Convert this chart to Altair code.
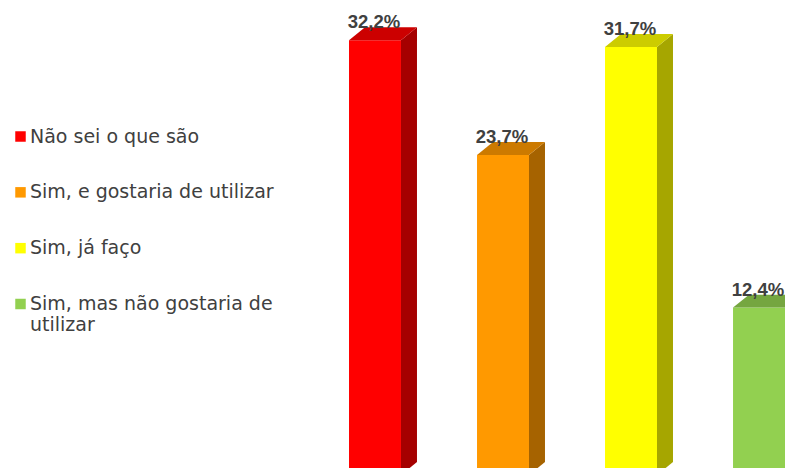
import altair as alt
import pandas as pd

# ---- data ----
categories = [
    "Não sei o que são",
    "Sim, e gostaria de utilizar",
    "Sim, já faço",
    "Sim, mas não gostaria de utilizar",
]
legend_labels = [
    "Não sei o que são",
    "Sim, e gostaria de utilizar",
    "Sim, já faço",
    "Sim, mas não gostaria de\nutilizar",
]
values = [32.2, 23.7, 31.7, 12.4]

front_colors = ["#FF0000", "#FF9900", "#FFFF00", "#92D050"]
top_colors = ["#CC0000", "#CC7A00", "#CCCC00", "#75A640"]
side_colors = ["#A50000", "#A66300", "#A6A600", "#5F8A34"]

# ---- geometry (style) ----
HALF = 0.203    # half front width (slot units)
DX = 0.125      # depth in x (slot units)
DY = 0.96       # depth in y (% units)
X_DOMAIN = [-2.867, 3.203]
Y_DOMAIN = [0.52, 34.59]

bars = pd.DataFrame({
    "name": categories,
    "i": list(range(len(categories))),
    "v": values,
    "front": front_colors,
})
bars["left"] = bars["i"] - HALF
bars["right"] = bars["i"] + HALF
bars["zero"] = 0.0
bars["label"] = [f"{v:.1f}".replace(".", ",") + "%" for v in values]

side_rows, top_rows = [], []
for k in range(len(categories)):
    nm, v = categories[k], values[k]
    lft, rgt = k - HALF, k + HALF
    side_rows.append({"name": nm, "x": rgt, "y": v, "y2": 0.0, "col": side_colors[k]})
    side_rows.append({"name": nm, "x": rgt + DX, "y": v + DY, "y2": DY, "col": side_colors[k]})
    top_rows.append({"name": nm, "y": v, "x": lft, "x2": rgt, "col": top_colors[k]})
    top_rows.append({"name": nm, "y": v + DY, "x": lft + DX, "x2": rgt + DX, "col": top_colors[k]})
side = pd.DataFrame(side_rows)
top = pd.DataFrame(top_rows)

legend_df = pd.DataFrame({"name": categories, "text": legend_labels, "col": front_colors})

xs = alt.Scale(domain=X_DOMAIN, nice=False, zero=False)
ys = alt.Scale(domain=Y_DOMAIN, nice=False, zero=False)

front_layer = alt.Chart(bars).mark_rect(clip=True).encode(
    x=alt.X("left:Q", scale=xs, axis=None),
    x2="right:Q",
    y=alt.Y("v:Q", scale=ys, axis=None),
    y2="zero:Q",
    color=alt.Color("front:N", scale=None),
)

side_layer = alt.Chart(side).mark_area(clip=True).encode(
    x=alt.X("x:Q", scale=xs, axis=None),
    y=alt.Y("y:Q", scale=ys, axis=None, stack=None),
    y2="y2:Q",
    detail="name:N",
    color=alt.Color("col:N", scale=None),
)

top_layer = alt.Chart(top).mark_area(clip=True, orient="horizontal").encode(
    y=alt.Y("y:Q", scale=ys, axis=None),
    x=alt.X("x:Q", scale=xs, axis=None, stack=None),
    x2="x2:Q",
    detail="name:N",
    color=alt.Color("col:N", scale=None),
)

label_layer = alt.Chart(bars).mark_text(
    align="center", baseline="alphabetic", dx=-1, dy=-12,
    font="Liberation Sans", fontSize=18.5, fontWeight="bold", color="#404040",
).encode(
    x=alt.X("i:Q", scale=xs, axis=None),
    y=alt.Y("v:Q", scale=ys, axis=None),
    text="label:N",
)

bar_part = alt.layer(front_layer, side_layer, top_layer, label_layer)

ly = alt.Scale(domain=categories, range=[128.5, 296], padding=0)

legend_sq = alt.Chart(legend_df).mark_square(size=110, opacity=1).encode(
    x=alt.value(12.5),
    y=alt.Y("name:N", scale=ly, axis=None),
    color=alt.Color("col:N", scale=None),
)
legend_tx = alt.Chart(legend_df).mark_text(
    align="left", baseline="alphabetic", dy=6, lineBreak="\n", lineHeight=21,
    font="DejaVu Sans", fontSize=19, color="#404040",
).encode(
    x=alt.value(22),
    y=alt.Y("name:N", scale=ly, axis=None),
    text="text:N",
)
legend_part = alt.layer(legend_sq, legend_tx)

chart = alt.layer(bar_part, legend_part).resolve_scale(y="independent").properties(
    width=777, height=460, padding=0,
    autosize=alt.AutoSizeParams(type="none"),
).configure_view(stroke=None)

chart.save("out.html", embed_options={"renderer": "svg", "actions": False})
